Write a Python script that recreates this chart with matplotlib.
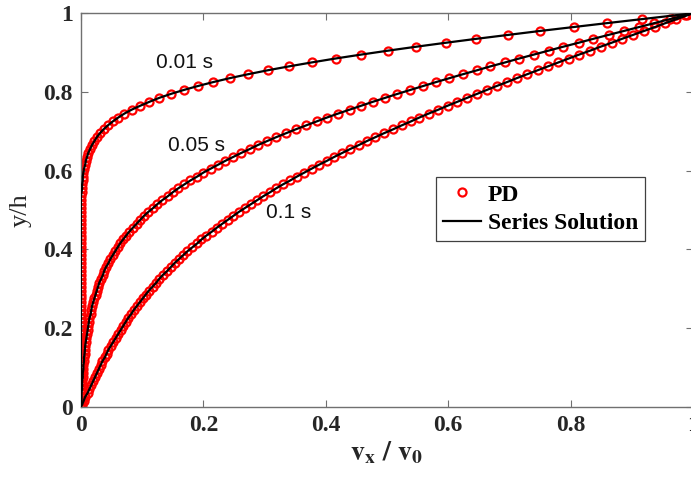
import numpy as np
import matplotlib
matplotlib.use('Agg')
import matplotlib.pyplot as plt

# PD node heights y/h (cell centres, 100 nodes)
y_nodes = np.linspace(0.005, 0.995, 100)

# v_x/v0, bottom node first
v_001 = [0.0] * 54 + [
    0.001, 0.002, 0.002, 0.003, 0.003, 0.004, 0.005, 0.007, 0.008, 0.010,
    0.012, 0.015, 0.018, 0.022, 0.026, 0.031, 0.037, 0.044, 0.052, 0.061,
    0.071, 0.083, 0.097, 0.112, 0.128, 0.147, 0.168, 0.191, 0.216, 0.243,
    0.273, 0.305, 0.340, 0.377, 0.416, 0.458, 0.502, 0.548, 0.596, 0.646,
    0.698, 0.750, 0.805, 0.860, 0.916, 0.972]

v_005 = [
    0.000, 0.001, 0.001, 0.001, 0.002, 0.002, 0.002, 0.003, 0.003, 0.004,
    0.004, 0.005, 0.005, 0.006, 0.0065, 0.007, 0.008, 0.009, 0.010, 0.011,
    0.012, 0.013, 0.014, 0.016, 0.017, 0.018, 0.020, 0.022, 0.024, 0.026,
    0.028, 0.030, 0.033, 0.036, 0.038, 0.041, 0.045, 0.048, 0.052, 0.056,
    0.060, 0.064, 0.069, 0.074, 0.079, 0.085, 0.091, 0.097, 0.103, 0.110,
    0.118, 0.125, 0.133, 0.142, 0.150, 0.159, 0.169, 0.179, 0.190, 0.200,
    0.212, 0.224, 0.236, 0.249, 0.262, 0.276, 0.289, 0.304, 0.319, 0.335,
    0.351, 0.368, 0.385, 0.402, 0.420, 0.439, 0.458, 0.477, 0.497, 0.517,
    0.538, 0.559, 0.580, 0.602, 0.624, 0.647, 0.669, 0.693, 0.716, 0.740,
    0.764, 0.788, 0.813, 0.837, 0.862, 0.887, 0.912, 0.937, 0.962, 0.987]

v_01 = [
    0.002, 0.0045, 0.007, 0.011, 0.014, 0.017, 0.020, 0.023, 0.026, 0.029,
    0.032, 0.035, 0.039, 0.042, 0.045, 0.049, 0.053, 0.057, 0.061, 0.065,
    0.069, 0.073, 0.077, 0.082, 0.086, 0.091, 0.096, 0.101, 0.106, 0.111,
    0.117, 0.123, 0.128, 0.134, 0.141, 0.147, 0.153, 0.160, 0.167, 0.174,
    0.182, 0.190, 0.197, 0.205, 0.214, 0.222, 0.231, 0.240, 0.249, 0.258,
    0.268, 0.278, 0.288, 0.298, 0.309, 0.319, 0.330, 0.342, 0.353, 0.365,
    0.377, 0.389, 0.402, 0.414, 0.427, 0.440, 0.454, 0.467, 0.481, 0.495,
    0.510, 0.524, 0.539, 0.553, 0.568, 0.584, 0.599, 0.615, 0.631, 0.647,
    0.663, 0.679, 0.696, 0.712, 0.729, 0.746, 0.763, 0.780, 0.797, 0.814,
    0.832, 0.849, 0.867, 0.884, 0.902, 0.920, 0.938, 0.955, 0.973, 0.991]

curves = [v_001, v_005, v_01]
time_labels = ['0.01 s', '0.05 s', '0.1 s']
label_pos = [(0.170, 0.874), (0.189, 0.665), (0.339, 0.494)]

ticks = [0, 0.2, 0.4, 0.6, 0.8, 1]
tick_labels = ['0', '0.2', '0.4', '0.6', '0.8', '1']

plt.rcParams['font.family'] = 'Liberation Serif'
plt.rcParams['font.weight'] = 'bold'
plt.rcParams['mathtext.fontset'] = 'stix'

fig = plt.figure(figsize=(6.91, 4.93), dpi=100)
ax = fig.add_axes([0.1171, 0.1751, 0.8858, 0.7980])

for i, v in enumerate(curves):
    # series solution runs wall to wall
    vs = np.concatenate([[0.0], v, [1.0]])
    ys = np.concatenate([[0.0], y_nodes, [1.0]])
    ax.plot(vs, ys, color='black', lw=1.6, zorder=3,
            label='Series Solution' if i == 0 else None)
for i, v in enumerate(curves):
    ax.plot(v, y_nodes, 'o', ls='none', mfc='none', mec='red', ms=5.8, mew=1.6,
            zorder=2, label='PD' if i == 0 else None)

for txt, (tx, ty) in zip(time_labels, label_pos):
    ax.text(tx, ty, txt, family='Liberation Sans', fontweight='normal',
            fontsize=15, ha='center', va='center', color='#111111')

ax.set_xlim(0, 1)
ax.set_ylim(0, 1)
ax.set_xticks(ticks)
ax.set_xticklabels(tick_labels)
ax.set_yticks(ticks)
ax.set_yticklabels(tick_labels)
ax.tick_params(direction='in', top=True, right=True, length=5, width=0.8,
               color='#707070', labelsize=17, labelcolor='#262626', pad=6)
for s in ax.spines.values():
    s.set_color('#707070')
    s.set_linewidth(1.0)

ax.set_xlabel(r'$\mathbf{v_x\ /\ v_0}$', fontsize=20, color='#262626', labelpad=2)
ax.set_ylabel('y/h', fontsize=19, color='#262626', labelpad=8)

h, l = ax.get_legend_handles_labels()
order = [l.index('PD'), l.index('Series Solution')]
leg = ax.legend([h[k] for k in order], [l[k] for k in order],
                loc='upper left', bbox_to_anchor=(0.580, 0.584), fontsize=17,
                numpoints=1, handlelength=1.6, handletextpad=0.3, borderpad=0.3,
                labelspacing=0.3, borderaxespad=0, fancybox=False, framealpha=1)
leg.get_frame().set_edgecolor('#404040')
leg.get_frame().set_linewidth(0.9)

fig.savefig('out.png', dpi=100)
